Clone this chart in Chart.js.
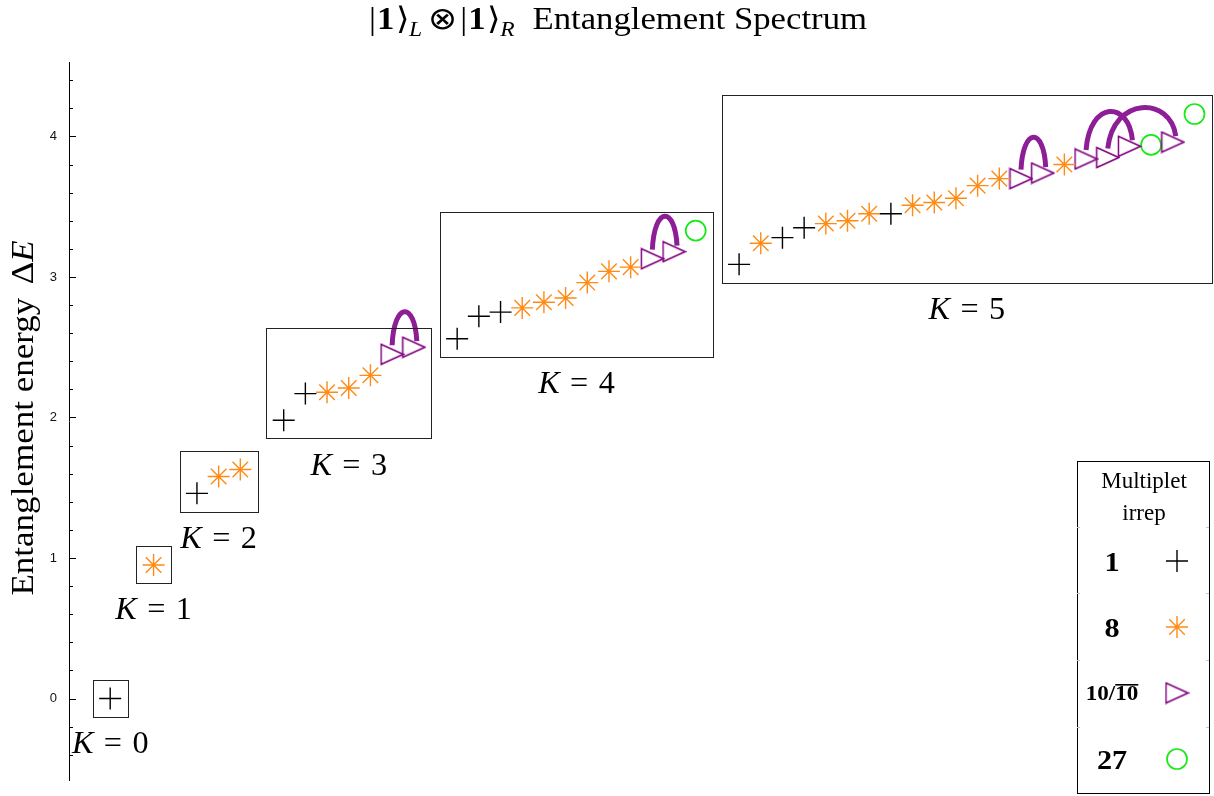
<!DOCTYPE html>
<html>
<head>
<meta charset="utf-8">
<script src="https://cdn.jsdelivr.net/npm/chart.js@4.4.1/dist/chart.umd.min.js"></script>
<style>
  html, body { margin: 0; padding: 0; background: #fff; }
  #wrap { width: 1214px; height: 796px; }
</style>
</head>
<body>
<div id="wrap"><canvas id="spectrum" width="1214" height="796"></canvas></div>
<script>
/* ═══════════════════════════════════════════════════
   |1>_L ⊗ |1>_R entanglement spectrum, levels grouped by K
═══════════════════════════════════════════════════ */

// one entry per level, ordered by K sector then by energy
const levelK = [
    0,
    1,
    2, 2, 2,
    3, 3, 3, 3, 3, 3, 3,
    4, 4, 4, 4, 4, 4, 4, 4, 4, 4, 4, 4,
    5, 5, 5, 5, 5, 5, 5, 5, 5, 5, 5, 5, 5, 5, 5, 5, 5, 5, 5, 5, 5, 5
];
const levelIrrep = [
    '1',
    '8',
    '1', '8', '8',
    '1', '1', '8', '8', '8', '10', '10',
    '1', '1', '1', '8', '8', '8', '8', '8', '8', '10', '10', '27',
    '1', '8', '1', '1', '8', '8', '8', '1', '8', '8', '8', '8', '8',
    '10', '10', '8', '10', '10', '10', '27', '10', '27'
];
const levelEnergy = [
    0.00,
    0.95,
    1.46, 1.58, 1.63,
    1.98, 2.17, 2.18, 2.21, 2.30, 2.45, 2.50,
    2.56, 2.72, 2.75, 2.78, 2.82, 2.85, 2.96, 3.04, 3.07, 3.13, 3.18, 3.33,
    3.09, 3.24, 3.28, 3.35, 3.38, 3.40, 3.45, 3.45, 3.51, 3.53, 3.56, 3.65, 3.70,
    3.70, 3.74, 3.80, 3.84, 3.85, 3.93, 3.94, 3.96, 4.16
];
// 10 / 10bar partners (level numbers above) joined by an arc
const conjugatePairs = [[10, 11], [21, 22], [37, 38], [40, 42], [41, 44]];

const kSectors    = [0, 1, 2, 3, 4, 5];
const irrepOrder  = ['1', '8', '10', '27'];
const yTickValues = [0, 1, 2, 3, 4];

const SERIF = '"Liberation Serif", "Times New Roman", serif';
const PURPLE = '#800080';

function triangleMarker(color) {
    const c = document.createElement('canvas');
    c.width = 25; c.height = 23;
    const g = c.getContext('2d');
    g.strokeStyle = color; g.lineWidth = 1.5;
    g.beginPath();
    g.moveTo(1.5, 1.5); g.lineTo(23.5, 11.5); g.lineTo(1.5, 21.5);
    g.closePath(); g.stroke();
    return c;
}

const irrepStyle = {
    '1':  { pointStyle: 'cross', color: '#000', radius: 11, borderWidth: 1.4 },
    '8':  { pointStyle: 'star',  color: '#ff8a14', radius: 11, borderWidth: 1.4 },
    '10': { pointStyle: triangleMarker(PURPLE), color: PURPLE, radius: 11, borderWidth: 1.5 },
    '27': { pointStyle: 'circle', color: '#14ea14', radius: 10, borderWidth: 1.7 }
};

// slot along the (hidden) horizontal axis: one empty slot between sectors
const levelSlot = levelK.map((k, i) => i + k);

const datasets = irrepOrder.map(irrep => {
    const st = irrepStyle[irrep];
    return {
        label: irrep,
        data: levelIrrep.map((r, i) => r === irrep ? { x: levelSlot[i], y: levelEnergy[i] } : null)
                        .filter(p => p),
        showLine: false,
        pointStyle: st.pointStyle,
        pointRadius: st.radius,
        pointBorderWidth: st.borderWidth,
        pointBorderColor: st.color,
        pointBackgroundColor: 'rgba(0,0,0,0)',
        pointHoverRadius: st.radius
    };
});

// draws a row of text pieces [{t, font, dy}] centred at x, stretched by sx
function drawRuns(ctx, runs, x, y, sx = 1) {
    let total = 0;
    runs.forEach(r => { ctx.font = r.font; r.w = ctx.measureText(r.t).width + (r.gap || 0); total += r.w; });
    ctx.save();
    ctx.translate(x - total * sx / 2, y);
    ctx.scale(sx, 1);
    ctx.textAlign = 'left';
    let cx = 0;
    runs.forEach(r => {
        ctx.font = r.font;
        ctx.fillText(r.t, cx, r.dy || 0);
        if (r.overline) ctx.fillRect(cx, r.overline, ctx.measureText(r.t).width, 1.6);
        cx += r.w;
    });
    ctx.restore();
}

function kLabel(k) {
    return [
        { t: 'K', font: `italic 31px ${SERIF}`, gap: 10 },
        { t: '=', font: `31px ${SERIF}`, gap: 10 },
        { t: String(k), font: `31px ${SERIF}` }
    ];
}

const spectrumDecor = {
    id: 'spectrumDecor',
    afterDatasetsDraw(chart) {
        const { ctx, scales: { x, y } } = chart;
        ctx.save();

        // conjugate-pair arcs
        ctx.strokeStyle = '#8c1f96';
        ctx.lineWidth = 5;
        ctx.lineCap = 'butt';
        conjugatePairs.forEach(([a, b]) => {
            const ax = x.getPixelForValue(levelSlot[a]),     ay = y.getPixelForValue(levelEnergy[a]) - 9;
            const bx = x.getPixelForValue(levelSlot[b]) + 3, by = y.getPixelForValue(levelEnergy[b]) - 6;
            const top = Math.min(ay, by) - 40;
            const dx = bx - ax;
            ctx.beginPath();
            ctx.moveTo(ax, ay);
            ctx.bezierCurveTo(ax + 0.08 * dx, top, bx - 0.08 * dx, top, bx, by);
            ctx.stroke();
        });

        // sector boxes and K labels
        ctx.strokeStyle = '#222';
        ctx.lineWidth = 1;
        ctx.fillStyle = '#000';
        ctx.textBaseline = 'alphabetic';
        kSectors.forEach(k => {
            const idx = levelK.map((kk, i) => kk === k ? i : -1).filter(i => i >= 0);
            const slots = idx.map(i => levelSlot[i]);
            const ens = idx.map(i => levelEnergy[i]);
            const left = x.getPixelForValue(Math.min(...slots) - 0.8);
            const right = x.getPixelForValue(Math.max(...slots) + 0.8);
            const top = y.getPixelForValue(Math.max(...ens) + 0.135);
            const bottom = y.getPixelForValue(Math.min(...ens) - 0.13);
            ctx.strokeRect(Math.round(left) + 0.5, Math.round(top) + 0.5,
                           Math.round(right - left), Math.round(bottom - top));
            drawRuns(ctx, kLabel(k), (left + right) / 2, bottom + 36, 1.04);
        });
        ctx.restore();
    },
    afterDraw(chart) {
        const { ctx, scales: { y }, chartArea } = chart;
        ctx.save();
        ctx.fillStyle = '#000';
        ctx.strokeStyle = '#000';
        ctx.lineWidth = 1;

        // inward ticks on the energy axis, labels outside
        for (let v = -0.4; v <= 4.41; v += 0.2) {
            const major = Math.abs(v - Math.round(v)) < 1e-6;
            const py = Math.round(y.getPixelForValue(v)) + 0.5;
            ctx.beginPath();
            ctx.moveTo(chartArea.left, py);
            ctx.lineTo(chartArea.left + (major ? 7 : 4), py);
            ctx.stroke();
        }
        ctx.font = '13px "Liberation Sans", Arial, sans-serif';
        ctx.textAlign = 'right';
        ctx.textBaseline = 'middle';
        ctx.fillStyle = '#111';
        y.ticks.forEach(t => ctx.fillText(String(t.value), chartArea.left - 12, y.getPixelForValue(t.value)));
        ctx.fillStyle = '#000';

        // title
        ctx.textBaseline = 'alphabetic';
        const tf = `31px ${SERIF}`;
        drawRuns(ctx, [
            { t: '|', font: tf, gap: 1 },
            { t: '1', font: `bold 31px ${SERIF}`, gap: 1 },
            { t: '⟩', font: tf },
            { t: 'L', font: `italic 21px ${SERIF}`, dy: 7, gap: 5 },
            { t: '⊗', font: tf, gap: 3 },
            { t: '|', font: tf, gap: 1 },
            { t: '1', font: `bold 31px ${SERIF}`, gap: 1 },
            { t: '⟩', font: tf },
            { t: 'R', font: `italic 21px ${SERIF}`, dy: 7, gap: 16 },
            { t: 'Entanglement Spectrum', font: tf }
        ], 618, 29, 1.12);

        // y axis title
        ctx.save();
        ctx.translate(33, 418);
        ctx.rotate(-Math.PI / 2);
        drawRuns(ctx, [
            { t: 'Entanglement energy ', font: `31px ${SERIF}`, gap: 4 },
            { t: 'Δ', font: `31px ${SERIF}` },
            { t: 'E', font: `italic 31px ${SERIF}` }
        ], 0, 0, 1.13);
        ctx.restore();

        // irrep legend table
        const bx = 1077, by = 461, bw = 132, bh = 332;
        ctx.strokeRect(bx + 0.5, by + 0.5, bw, bh);
        ctx.strokeStyle = '#c8c8c8';
        [527, 593, 660, 727].forEach(ty => {
            ctx.beginPath();
            ctx.moveTo(bx, ty + 0.5); ctx.lineTo(bx + 3, ty + 0.5);
            ctx.moveTo(bx + bw, ty + 0.5); ctx.lineTo(bx + bw - 3, ty + 0.5);
            ctx.stroke();
        });
        drawRuns(ctx, [{ t: 'Multiplet', font: `23px ${SERIF}` }], 1144, 488);
        drawRuns(ctx, [{ t: 'irrep', font: `23px ${SERIF}` }], 1144, 520);
        const rowY = [561, 627, 693, 759];
        const rowLabel = [
            [{ t: '1', font: `bold 28px ${SERIF}` }],
            [{ t: '8', font: `bold 28px ${SERIF}` }],
            [{ t: '10/', font: `bold 21px ${SERIF}` }, { t: '10', font: `bold 21px ${SERIF}`, overline: -16 }],
            [{ t: '27', font: `bold 28px ${SERIF}` }]
        ];
        irrepOrder.forEach((irrep, i) => {
            const st = irrepStyle[irrep];
            drawRuns(ctx, rowLabel[i], 1112, rowY[i] + (i === 2 ? 7 : 10), i === 2 ? 1.1 : 1.08);
            ctx.strokeStyle = st.color;
            ctx.lineWidth = st.borderWidth;
            ctx.fillStyle = 'rgba(0,0,0,0)';
            Chart.helpers.drawPoint(ctx, {
                pointStyle: st.pointStyle, radius: st.radius,
                borderWidth: st.borderWidth, rotation: 0
            }, 1177, rowY[i]);
            ctx.fillStyle = '#000';
        });
        ctx.restore();
    }
};

new Chart(document.getElementById('spectrum').getContext('2d'), {
    type: 'scatter',
    data: { datasets },
    options: {
        responsive: false,
        animation: false,
        events: [],
        layout: { autoPadding: false, padding: { top: 62, bottom: 16, left: 0, right: 0 } },
        plugins: { legend: { display: false }, tooltip: { enabled: false }, title: { display: false } },
        scales: {
            x: { type: 'linear', display: false, min: -1.9, max: 50.9 },
            y: {
                min: -0.58, max: 4.53,
                afterBuildTicks: s => { s.ticks = yTickValues.map(v => ({ value: v })); },
                afterFit: s => { s.width = 69; },
                grid: { display: false, drawTicks: false },
                border: { display: true, color: '#000', width: 1 },
                ticks: { display: false }
            }
        }
    },
    plugins: [spectrumDecor]
});
</script>
</body>
</html>
